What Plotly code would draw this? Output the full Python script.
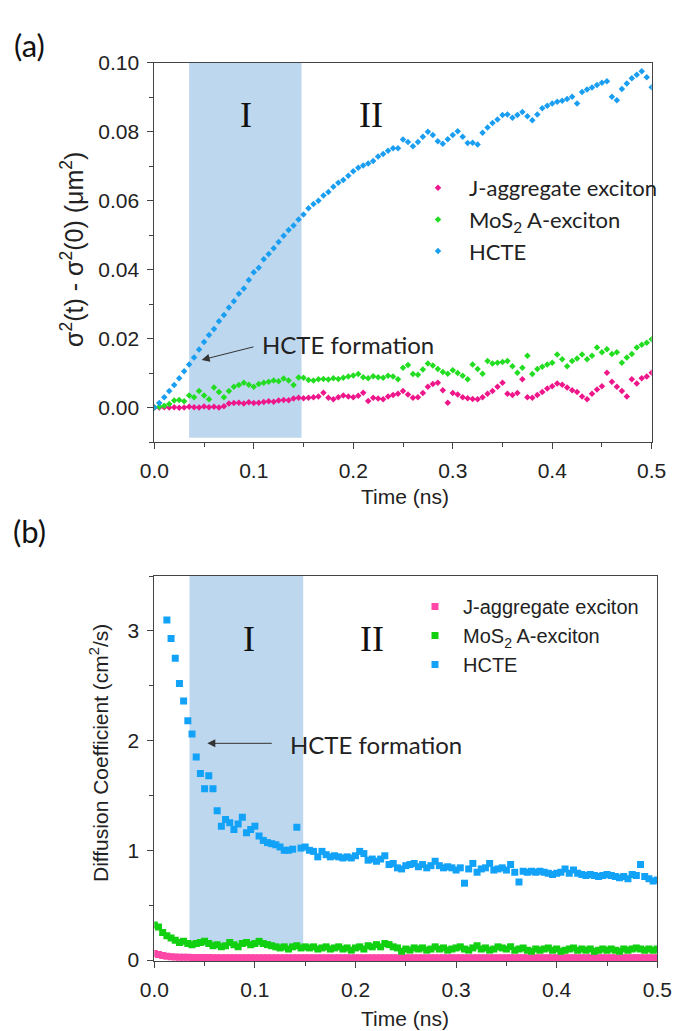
import plotly.graph_objects as go

W, H = 673, 1031

# ---------------- Panel (a) data: sigma^2(t) - sigma^2(0) (um^2) ----------------
a_t_step = 0.005
a_j_agg = [0.0000, 0.0000, 0.0001, 0.0000, 0.0001, -0.0001, 0.0000, 0.0002, 0.0001, 0.0000,
           0.0003, 0.0001, 0.0002, 0.0000, 0.0004, 0.0012, 0.0013, 0.0014, 0.0012, 0.0015,
           0.0013, 0.0014, 0.0016, 0.0018, 0.0017, 0.0020, 0.0022, 0.0021, 0.0026, 0.0028,
           0.0027, 0.0028, 0.0030, 0.0032, 0.0043, 0.0028, 0.0024, 0.0030, 0.0035, 0.0032,
           0.0030, 0.0034, 0.0043, 0.0019, 0.0028, 0.0026, 0.0024, 0.0032, 0.0036, 0.0040,
           0.0048, 0.0038, 0.0028, 0.0030, 0.0042, 0.0060, 0.0068, 0.0072, 0.0050, 0.0014,
           0.0042, 0.0038, 0.0030, 0.0027, 0.0025, 0.0024, 0.0030, 0.0040, 0.0048, 0.0060,
           0.0072, 0.0040, 0.0036, 0.0042, 0.0082, 0.0030, 0.0028, 0.0036, 0.0045, 0.0055,
           0.0062, 0.0070, 0.0066, 0.0058, 0.0050, 0.0045, 0.0032, 0.0024, 0.0040, 0.0052,
           0.0062, 0.0101, 0.0075, 0.0060, 0.0048, 0.0032, 0.0082, 0.0070, 0.0085, 0.0090,
           0.0101]
a_mos2 = [0.0000, 0.0002, 0.0005, 0.0010, 0.0020, 0.0022, 0.0018, 0.0035, 0.0030, 0.0048,
          0.0035, 0.0024, 0.0058, 0.0045, 0.0030, 0.0048, 0.0060, 0.0065, 0.0072, 0.0066,
          0.0060, 0.0068, 0.0072, 0.0075, 0.0078, 0.0076, 0.0084, 0.0078, 0.0065, 0.0087,
          0.0086, 0.0080, 0.0078, 0.0082, 0.0083, 0.0081, 0.0085, 0.0083, 0.0086, 0.0090,
          0.0093, 0.0097, 0.0088, 0.0085, 0.0091, 0.0088, 0.0086, 0.0092, 0.0090, 0.0082,
          0.0115, 0.0123, 0.0097, 0.0095, 0.0110, 0.0128, 0.0122, 0.0112, 0.0103, 0.0098,
          0.0108, 0.0100, 0.0092, 0.0082, 0.0125, 0.0112, 0.0098, 0.0135, 0.0128, 0.0130,
          0.0132, 0.0135, 0.0120, 0.0101, 0.0115, 0.0150, 0.0097, 0.0112, 0.0118, 0.0125,
          0.0130, 0.0154, 0.0140, 0.0120, 0.0135, 0.0142, 0.0154, 0.0140, 0.0150, 0.0174,
          0.0160, 0.0169, 0.0155, 0.0160, 0.0130, 0.0145, 0.0155, 0.0174, 0.0182, 0.0188,
          0.0198]
a_hcte = [0.0000, 0.0013, 0.0030, 0.0048, 0.0065, 0.0085, 0.0105, 0.0125, 0.0145, 0.0168,
          0.0190, 0.0210, 0.0228, 0.0250, 0.0268, 0.0290, 0.0308, 0.0330, 0.0345, 0.0370,
          0.0392, 0.0405, 0.0430, 0.0445, 0.0462, 0.0480, 0.0498, 0.0515, 0.0528, 0.0545,
          0.0560, 0.0578, 0.0590, 0.0600, 0.0615, 0.0625, 0.0640, 0.0652, 0.0660, 0.0672,
          0.0685, 0.0695, 0.0702, 0.0708, 0.0715, 0.0728, 0.0735, 0.0745, 0.0752, 0.0752,
          0.0777, 0.0770, 0.0758, 0.0770, 0.0785, 0.0800, 0.0790, 0.0772, 0.0765, 0.0778,
          0.0790, 0.0801, 0.0785, 0.0767, 0.0768, 0.0763, 0.0797, 0.0812, 0.0825, 0.0835,
          0.0848, 0.0850, 0.0840, 0.0848, 0.0857, 0.0845, 0.0833, 0.0850, 0.0868, 0.0875,
          0.0882, 0.0887, 0.0890, 0.0895, 0.0901, 0.0882, 0.0915, 0.0922, 0.0928, 0.0935,
          0.0942, 0.0946, 0.0901, 0.0891, 0.0924, 0.0940, 0.0955, 0.0965, 0.0975, 0.0958,
          0.0929]

# ---------------- Panel (b) data: diffusion coefficient (cm^2/s) ----------------
b_t_step = 0.5 / 120
b_j_agg = [0.060, 0.050, 0.040, 0.035, 0.030, 0.028, 0.026, 0.025, 0.024, 0.023,
           0.023, 0.022, 0.022, 0.022, 0.021, 0.021, 0.021, 0.021, 0.020, 0.021,
           0.020, 0.020, 0.021, 0.020, 0.020, 0.020, 0.020, 0.020, 0.020, 0.020,
           0.020, 0.020, 0.020, 0.020, 0.020, 0.020, 0.020, 0.020, 0.020, 0.020,
           0.020, 0.020, 0.020, 0.020, 0.020, 0.020, 0.020, 0.020, 0.020, 0.020,
           0.020, 0.020, 0.020, 0.020, 0.020, 0.020, 0.020, 0.020, 0.020, 0.020,
           0.020, 0.020, 0.020, 0.020, 0.020, 0.020, 0.020, 0.020, 0.020, 0.020,
           0.020, 0.020, 0.020, 0.020, 0.020, 0.020, 0.020, 0.020, 0.020, 0.020,
           0.020, 0.020, 0.020, 0.020, 0.020, 0.020, 0.020, 0.020, 0.020, 0.020,
           0.020, 0.020, 0.020, 0.020, 0.020, 0.020, 0.020, 0.020, 0.020, 0.020,
           0.020, 0.020, 0.020, 0.020, 0.020, 0.020, 0.020, 0.020, 0.020, 0.020,
           0.020, 0.020, 0.020, 0.020, 0.020, 0.020, 0.020, 0.020, 0.020, 0.020,
           0.020]
b_mos2 = [0.32, 0.30, 0.25, 0.22, 0.20, 0.18, 0.16, 0.17, 0.15, 0.14,
          0.15, 0.16, 0.17, 0.15, 0.13, 0.14, 0.12, 0.13, 0.16, 0.14,
          0.12, 0.15, 0.16, 0.14, 0.15, 0.17, 0.15, 0.14, 0.13, 0.12,
          0.11, 0.12, 0.10, 0.12, 0.13, 0.11, 0.12, 0.11, 0.12, 0.10,
          0.11, 0.12, 0.10, 0.11, 0.12, 0.10, 0.11, 0.09, 0.11, 0.12,
          0.10, 0.13, 0.12, 0.14, 0.12, 0.15, 0.14, 0.12, 0.11, 0.08,
          0.10, 0.09, 0.11, 0.10, 0.11, 0.09, 0.10, 0.12, 0.10, 0.11,
          0.09, 0.10, 0.11, 0.12, 0.10, 0.09, 0.11, 0.13, 0.10, 0.11,
          0.09, 0.10, 0.12, 0.11, 0.10, 0.12, 0.09, 0.10, 0.11, 0.09,
          0.08, 0.10, 0.09, 0.10, 0.11, 0.09, 0.10, 0.08, 0.09, 0.10,
          0.11, 0.09, 0.10, 0.09, 0.10, 0.08, 0.09, 0.10, 0.09, 0.10,
          0.09, 0.08, 0.10, 0.09, 0.10, 0.11, 0.10, 0.09, 0.10, 0.09,
          0.10]
b_hcte = [None, None, None, 3.10, 2.93, 2.75, 2.52, 2.36, 2.18, 2.06,
          1.85, 1.70, 1.56, 1.68, 1.56, 1.36, 1.22, 1.28, 1.25, 1.19,
          1.24, 1.30, 1.16, 1.19, 1.22, 1.13, 1.09, 1.07, 1.06, 1.05,
          1.03, 1.00, 1.00, 1.01, 1.21, 1.02, 1.03, 1.00, 0.99, 0.94,
          0.99, 0.96, 0.94, 0.95, 0.94, 0.93, 0.94, 0.93, 0.95, 0.99,
          0.97, 0.91, 0.92, 0.90, 0.92, 0.95, 0.87, 0.88, 0.84, 0.83,
          0.86, 0.87, 0.88, 0.85, 0.87, 0.84, 0.86, 0.90, 0.86, 0.84,
          0.85, 0.84, 0.82, 0.84, 0.70, 0.83, 0.88, 0.80, 0.83, 0.84,
          0.88, 0.82, 0.83, 0.84, 0.82, 0.87, 0.80, 0.71, 0.81, 0.80,
          0.81, 0.80, 0.81, 0.80, 0.79, 0.78, 0.79, 0.80, 0.83, 0.79,
          0.82, 0.79, 0.78, 0.77, 0.78, 0.77, 0.76, 0.77, 0.78, 0.77,
          0.76, 0.75, 0.76, 0.74, 0.78, 0.77, 0.87, 0.76, 0.74, 0.72,
          0.73]

series_names = ["J-aggregate exciton", "MoS<sub>2</sub> A-exciton", "HCTE"]
region_bounds = [0.035, 0.148]

a_t = [round(i * a_t_step, 6) for i in range(len(a_hcte))]
b_t = [round(i * b_t_step, 6) for i in range(len(b_hcte))]

colors_a = ["#EE168A", "#22DD22", "#1A9EF2"]
colors_b = ["#FF47A8", "#10D010", "#12A2F8"]
shade = "#BDD7EE"
axis_col = "#444444"


def px(x):
    return x / W


def py(y):
    return 1 - y / H


fig = go.Figure()

for name, vals, col in zip(series_names, [a_j_agg, a_mos2, a_hcte], colors_a):
    fig.add_trace(go.Scatter(x=a_t, y=vals, mode="markers", name=name,
                             marker=dict(symbol="diamond", size=5, color=col, line=dict(width=0)),
                             xaxis="x", yaxis="y", legend="legend"))
for name, vals, col in zip(series_names, [b_j_agg, b_mos2, b_hcte], colors_b):
    fig.add_trace(go.Scatter(x=b_t, y=vals, mode="markers", name=name,
                             marker=dict(symbol="square", size=7, color=col, line=dict(width=0)),
                             xaxis="x2", yaxis="y2", legend="legend2"))

tickfont = dict(family="Liberation Sans, Arial", size=21, color="#222")
base = dict(showgrid=False, zeroline=False, showline=True, linecolor=axis_col, linewidth=1,
            ticks="outside", ticklen=6, tickcolor=axis_col, tickwidth=1, tickfont=tickfont)
over = dict(showgrid=False, zeroline=False, showline=False, ticks="inside", ticklen=6,
            tickcolor=axis_col, tickwidth=1, showticklabels=False)

xa_dom = [px(154.3), px(651.7)]
ya_dom = [py(442.0), py(62.7)]
xb_dom = [px(154.3), px(657.3)]
yb_dom = [py(961.1), py(576.0)]

ra_x = [0, 0.5]
ra_y = [-0.01, 0.10]
rb_x = [0, 0.5]
rb_y = [-0.01, 3.5]
xticks = [0, 0.1, 0.2, 0.3, 0.4, 0.5]

fig.update_layout(
    width=W, height=H, margin=dict(l=0, r=0, t=0, b=0, autoexpand=False),
    paper_bgcolor="white", plot_bgcolor="white",
    xaxis=dict(base, domain=xa_dom, range=ra_x, anchor="y", tickvals=xticks,
               tickformat=".1f", minor=dict(dtick=0.05, tick0=0, ticklen=4, ticks="outside", tickcolor=axis_col),
               mirror=True, ticklabelstandoff=4),
    yaxis=dict(base, domain=ya_dom, range=ra_y, anchor="x", tick0=0, dtick=0.02, tickformat=".2f",
               minor=dict(dtick=0.01, tick0=0, ticklen=4, ticks="outside", tickcolor=axis_col),
               mirror=True, ticklabelstandoff=4),
    xaxis3=dict(over, overlaying="x", side="top", anchor="y", range=ra_x, tickvals=xticks,
                minor=dict(dtick=0.05, tick0=0, ticklen=4, ticks="inside", tickcolor=axis_col)),
    yaxis3=dict(over, overlaying="y", side="right", anchor="x", range=ra_y, tick0=0, dtick=0.02,
                minor=dict(dtick=0.01, tick0=0, ticklen=4, ticks="inside", tickcolor=axis_col)),
    xaxis2=dict(base, domain=xb_dom, range=rb_x, anchor="y2", tickvals=xticks,
                tickformat=".1f", minor=dict(dtick=0.05, tick0=0, ticklen=4, ticks="outside", tickcolor=axis_col),
                mirror=True, ticklabelstandoff=4),
    yaxis2=dict(base, domain=yb_dom, range=rb_y, anchor="x2", tick0=0, dtick=1, tickformat="d",
                minor=dict(dtick=0.5, tick0=0, ticklen=4, ticks="outside", tickcolor=axis_col),
                mirror=True, ticklabelstandoff=4),
    xaxis4=dict(over, overlaying="x2", side="top", anchor="y2", range=rb_x, tickvals=xticks,
                minor=dict(dtick=0.05, tick0=0, ticklen=4, ticks="inside", tickcolor=axis_col)),
    yaxis4=dict(over, overlaying="y2", side="right", anchor="x2", range=rb_y, tick0=0, dtick=1,
                minor=dict(dtick=0.5, tick0=0, ticklen=4, ticks="inside", tickcolor=axis_col)),
    legend=dict(x=px(407), y=py(167), xanchor="left", yanchor="top", bgcolor="rgba(0,0,0,0)",
                font=dict(family="Lato, Carlito, Calibri", size=22, color="#222"), itemwidth=52,
                tracegroupgap=0),
    legend2=dict(x=px(407), y=py(587), xanchor="left", yanchor="top", bgcolor="rgba(0,0,0,0)",
                 font=dict(family="Liberation Sans, Arial", size=20, color="#222"), itemwidth=46,
                 tracegroupgap=0),
    showlegend=True,
)

# Shaded region I
fig.add_shape(type="rect", xref="x", yref="y", x0=region_bounds[0], x1=region_bounds[1],
              y0=-0.0088, y1=0.10, fillcolor=shade, line=dict(width=0), layer="below")
fig.add_shape(type="rect", xref="x2", yref="y2", x0=region_bounds[0], x1=region_bounds[1],
              y0=0.13, y1=3.5, fillcolor=shade, line=dict(width=0), layer="below")

serif = dict(family="Liberation Serif, Times New Roman", size=36, color="#111")
calibri = dict(family="Lato, Carlito, Calibri", size=24, color="#222")
arial = dict(family="Liberation Sans, Arial", size=21, color="#222")
C = dict(showarrow=False, xanchor="center", yanchor="middle")

ann = []
# region labels
ann.append(dict(C, xref="x", yref="y", x=0.0924, y=0.0849, text="I", font=serif))
ann.append(dict(C, xref="x", yref="y", x=0.2178, y=0.0849, text="II", font=serif))
ann.append(dict(C, xref="x2", yref="y2", x=0.0944, y=2.93, text="I", font=serif))
ann.append(dict(C, xref="x2", yref="y2", x=0.2162, y=2.93, text="II", font=serif))
# HCTE formation arrows
ann.append(dict(xref="x", yref="y", x=0.0476, y=0.0138, ax=0.1012, ay=0.0177, axref="x", ayref="y",
                text="", showarrow=True, arrowhead=2, arrowsize=1.6, arrowwidth=1, arrowcolor="#333"))
ann.append(dict(xref="x", yref="y", x=0.1060, y=0.0183, text="HCTE formation", showarrow=False,
                xanchor="left", yanchor="middle", font=calibri))
ann.append(dict(xref="x2", yref="y2", x=0.0527, y=1.975, ax=0.1183, ay=1.975, axref="x2", ayref="y2",
                text="", showarrow=True, arrowhead=2, arrowsize=1.6, arrowwidth=1, arrowcolor="#333"))
ann.append(dict(xref="x2", yref="y2", x=0.1332, y=1.96, text="HCTE formation", showarrow=False,
                xanchor="left", yanchor="middle", font=calibri))
# axis titles
ann.append(dict(C, xref="paper", yref="paper", x=px(405), y=py(497), text="Time (ns)", font=arial))
ann.append(dict(C, xref="paper", yref="paper", x=px(405), y=py(1018), text="Time (ns)", font=arial))
ann.append(dict(C, xref="paper", yref="paper", x=px(72), y=py(250),
                text="σ<sup>2</sup>(t) - σ<sup>2</sup>(0) (μm<sup>2</sup>)", textangle=-90,
                font=dict(family="Liberation Sans, Arial", size=25, color="#222")))
ann.append(dict(C, xref="paper", yref="paper", x=px(99), y=py(753),
                text="Diffusion Coefficient (cm<sup>2</sup>/s)", textangle=-90, font=arial))
# panel labels
ann.append(dict(C, xref="paper", yref="paper", x=px(29), y=py(45), text="(a)",
                font=dict(family="Lato, Carlito, Calibri", size=31, color="#111")))
ann.append(dict(C, xref="paper", yref="paper", x=px(29), y=py(531), text="(b)",
                font=dict(family="Lato, Carlito, Calibri", size=31, color="#111")))
fig.update_layout(annotations=ann)

fig.write_html("out.html")
